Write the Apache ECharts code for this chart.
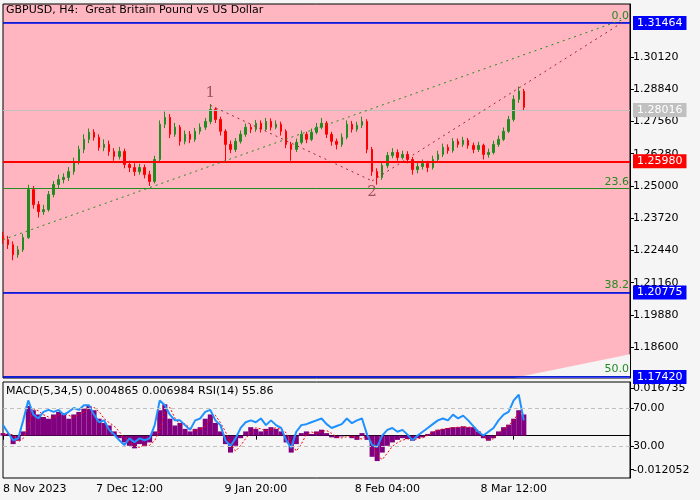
<!DOCTYPE html>
<html>
<head>
<meta charset="utf-8">
<script src="https://cdn.jsdelivr.net/npm/echarts@6/dist/echarts.min.js"></script>
<style>
  html, body { margin: 0; padding: 0; background: #f5f5f5; }
  #chart { width: 700px; height: 500px; }
</style>
</head>
<body>
<div id="chart"></div>
<script>
// H4 candles, one entry per ~4 bars of the picture
const closes = [
    1.2287, 1.2267, 1.2227, 1.2247, 1.2295, 1.2486, 1.2426, 1.2398, 1.2406, 1.2466,
    1.2506, 1.2526, 1.2534, 1.2557, 1.2597, 1.2645, 1.2685, 1.2713, 1.2693, 1.2653,
    1.2665, 1.2637, 1.2617, 1.2637, 1.2585, 1.2573, 1.2557, 1.2573, 1.2545, 1.2518,
    1.2605, 1.2745, 1.2772, 1.2705, 1.2733, 1.2677, 1.2705, 1.2685, 1.2717, 1.2733,
    1.2756, 1.2804, 1.2764, 1.2717, 1.2665, 1.2645, 1.2677, 1.2705, 1.2733, 1.2725,
    1.2749, 1.2725, 1.2756, 1.2733, 1.2745, 1.2717, 1.2665, 1.2645, 1.2673, 1.2705,
    1.2685, 1.2713, 1.2733, 1.2749, 1.2705, 1.2677, 1.2665, 1.2693, 1.2745, 1.2725,
    1.2741, 1.2756, 1.2645, 1.2557, 1.2534, 1.2581, 1.2621, 1.2633, 1.2613, 1.2625,
    1.2605, 1.2565, 1.2577, 1.2589, 1.2573, 1.2605, 1.2625, 1.2653, 1.2641, 1.2677,
    1.2665, 1.2681, 1.2661, 1.2645, 1.2661, 1.2625, 1.2633, 1.2665, 1.2685, 1.2717,
    1.2764, 1.2844, 1.2876, 1.2812
];
const highs = [
    1.2318, 1.2302, 1.2280, 1.2262, 1.2310, 1.2505, 1.2500, 1.2440, 1.2425, 1.2480,
    1.2520, 1.2545, 1.2550, 1.2575, 1.2612, 1.2660, 1.2705, 1.2728, 1.2725, 1.2705,
    1.2685, 1.2680, 1.2650, 1.2655, 1.2648, 1.2600, 1.2590, 1.2588, 1.2585, 1.2560,
    1.2620, 1.2760, 1.2795, 1.2785, 1.2750, 1.2742, 1.2720, 1.2718, 1.2730, 1.2748,
    1.2770, 1.2825, 1.2812, 1.2775, 1.2725, 1.2680, 1.2690, 1.2720, 1.2748, 1.2745,
    1.2762, 1.2760, 1.2770, 1.2768, 1.2760, 1.2755, 1.2725, 1.2675, 1.2688, 1.2720,
    1.2715, 1.2728, 1.2750, 1.2770, 1.2758, 1.2715, 1.2688, 1.2708, 1.2760, 1.2758,
    1.2755, 1.2775, 1.2765, 1.2655, 1.2570, 1.2595, 1.2635, 1.2650, 1.2645, 1.2640,
    1.2638, 1.2615, 1.2592, 1.2605, 1.2600, 1.2620, 1.2640, 1.2668, 1.2665, 1.2690,
    1.2688, 1.2695, 1.2690, 1.2672, 1.2675, 1.2668, 1.2648, 1.2680, 1.2700, 1.2732,
    1.2778, 1.2860, 1.2895, 1.2885
];
const lows = [
    1.2270, 1.2250, 1.2205, 1.2215, 1.2238, 1.2290, 1.2410, 1.2375, 1.2385, 1.2398,
    1.2455, 1.2490, 1.2510, 1.2520, 1.2545, 1.2585, 1.2630, 1.2670, 1.2680, 1.2640,
    1.2638, 1.2620, 1.2600, 1.2605, 1.2570, 1.2555, 1.2540, 1.2545, 1.2530, 1.2500,
    1.2510, 1.2598, 1.2730, 1.2690, 1.2695, 1.2660, 1.2665, 1.2670, 1.2675, 1.2705,
    1.2722, 1.2745, 1.2750, 1.2700, 1.2600, 1.2630, 1.2635, 1.2668, 1.2695, 1.2710,
    1.2715, 1.2712, 1.2718, 1.2720, 1.2725, 1.2700, 1.2650, 1.2600, 1.2635, 1.2665,
    1.2670, 1.2678, 1.2705, 1.2725, 1.2690, 1.2660, 1.2645, 1.2655, 1.2685, 1.2712,
    1.2715, 1.2730, 1.2630, 1.2540, 1.2505, 1.2525, 1.2570, 1.2610, 1.2600, 1.2605,
    1.2590, 1.2545, 1.2550, 1.2565, 1.2555, 1.2565, 1.2595, 1.2615, 1.2628, 1.2632,
    1.2652, 1.2655, 1.2648, 1.2630, 1.2635, 1.2605, 1.2612, 1.2625, 1.2655, 1.2678,
    1.2710, 1.2755, 1.2830, 1.2800
];
const firstOpen = 1.2300;

const macdHist = [
    0.0009, 0.0006, -0.0030, -0.0018, 0.0015, 0.0105, 0.0090, 0.0075, 0.0066, 0.0060,
    0.0075, 0.0084, 0.0075, 0.0060, 0.0075, 0.0084, 0.0096, 0.0105, 0.0090, 0.0060,
    0.0045, 0.0036, 0.0015, -0.0009, -0.0024, -0.0036, -0.0045, -0.0030, -0.0036, -0.0024,
    0.0015, 0.0090, 0.0111, 0.0060, 0.0036, 0.0045, 0.0024, 0.0015, 0.0024, 0.0030,
    0.0060, 0.0075, 0.0045, 0.0015, -0.0030, -0.0060, -0.0036, -0.0009, 0.0015, 0.0030,
    0.0024, 0.0015, 0.0024, 0.0030, 0.0024, 0.0015, -0.0024, -0.0060, -0.0030, 0.0009,
    0.0015, 0.0006, 0.0015, 0.0021, 0.0009, -0.0006, -0.0009, -0.0003, 0.0000, -0.0009,
    -0.0015, 0.0009, -0.0015, -0.0075, -0.0090, -0.0060, -0.0036, -0.0024, -0.0015, -0.0009,
    -0.0012, -0.0018, -0.0009, -0.0006, 0.0006, 0.0015, 0.0021, 0.0024, 0.0027, 0.0030,
    0.0030, 0.0033, 0.0030, 0.0030, 0.0015, -0.0009, -0.0018, -0.0009, 0.0015, 0.0030,
    0.0039, 0.0060, 0.0090, 0.0075
];
const macdSignal = [
    0.0005, 0.0008, 0.0002, -0.0022, -0.0010, 0.0030, 0.0095, 0.0088, 0.0074, 0.0066,
    0.0062, 0.0074, 0.0080, 0.0072, 0.0064, 0.0075, 0.0084, 0.0096, 0.0100, 0.0085,
    0.0060, 0.0046, 0.0034, 0.0014, -0.0008, -0.0022, -0.0035, -0.0042, -0.0032, -0.0034,
    -0.0018, 0.0020, 0.0085, 0.0100, 0.0062, 0.0040, 0.0042, 0.0026, 0.0017, 0.0023,
    0.0032, 0.0058, 0.0072, 0.0046, 0.0014, -0.0028, -0.0055, -0.0035, -0.0010, 0.0012,
    0.0028, 0.0024, 0.0017, 0.0023, 0.0028, 0.0023, 0.0010, -0.0022, -0.0055, -0.0030,
    0.0005, 0.0013, 0.0008, 0.0015, 0.0018, 0.0008, -0.0005, -0.0008, -0.0004, -0.0001,
    -0.0008, -0.0012, 0.0004, -0.0020, -0.0070, -0.0085, -0.0062, -0.0038, -0.0025, -0.0016,
    -0.0011, -0.0015, -0.0011, -0.0007, 0.0002, 0.0012, 0.0019, 0.0023, 0.0026, 0.0028,
    0.0030, 0.0031, 0.0030, 0.0029, 0.0018, -0.0004, -0.0015, -0.0011, 0.0008, 0.0026,
    0.0036, 0.0055, 0.0082, 0.0085
];
const rsi = [
    52, 44, 36, 38, 57, 78, 63, 59, 66, 68,
    66, 68, 63, 66, 70, 68, 73, 73, 63, 55,
    57, 47, 42, 36, 31, 38, 34, 38, 36, 38,
    52, 78, 73, 63, 57, 57, 52, 47, 57, 59,
    66, 68, 57, 52, 36, 30, 38, 49, 55, 57,
    55, 59, 52, 57, 52, 49, 36, 28, 45, 52,
    53, 55, 57, 59, 53, 49, 51, 53, 59, 54,
    57, 59, 42, 31, 29, 41, 47, 49, 45, 47,
    42, 36, 41, 45, 49, 53, 57, 59, 57, 63,
    59, 62, 57, 51, 45, 41, 45, 49, 57, 63,
    66, 78, 84, 57
];

const slotCount = 125;
const dateLabels = { 0: "8 Nov 2023", 25: "7 Dec 12:00", 50: "9 Jan 20:00", 76: "8 Feb 04:00", 101: "8 Mar 12:00" };
const priceTicks = [1.30120, 1.28840, 1.27560, 1.26280, 1.25000, 1.23720, 1.22440, 1.21160, 1.19880, 1.18600];
const macdTicks = [-0.012052, 0.016735];
const rsiTicks = [30, 70];

const fibLevels = [
    { name: "0.0", value: 1.3150 },
    { name: "23.6", value: 1.2490 },
    { name: "38.2", value: 1.2080 },
    { name: "50.0", value: 1.1746 }
];
const priceLines = [
    { value: 1.31464, color: "#0000ff" },
    { value: 1.28016, color: "#c0c0c0" },
    { value: 1.25980, color: "#ff0000" },
    { value: 1.20775, color: "#0000ff" },
    { value: 1.17420, color: "#0000ff" }
];
const wedge = [[101, 1.1738], [124, 1.1832]];

const categories = Array.from({ length: slotCount }, (_, i) => dateLabels[i] || "");
const candles = closes.map((c, i) => {
    const o = i === 0 ? firstOpen : closes[i - 1];
    return [o, c, lows[i], highs[i]];
});

const chart = echarts.init(document.getElementById("chart"));
const FONT = "DejaVu Sans";
const LAST = slotCount - 1;

const fibMarks = fibLevels.map(f => [
    {
        coord: [0, f.value],
        lineStyle: { color: "#228b22", width: 1, type: "solid" },
        label: { show: true, position: "insideEndTop", formatter: f.name, color: "#228b22", fontSize: 11, fontFamily: FONT, distance: 1 }
    },
    { coord: [LAST, f.value] }
]);
const priceMarks = priceLines.map(p => [
    {
        coord: [0, p.value],
        lineStyle: { color: p.color, width: p.color === "#ff0000" ? 2 : (p.color === "#c0c0c0" ? 1 : 1.5), type: "solid" },
        label: {
            show: true, position: "end", formatter: p.value.toFixed(5), color: "#fff",
            backgroundColor: p.color, padding: [2, 4, 1, 4], fontSize: 11, fontFamily: FONT, distance: 3
        }
    },
    { coord: [LAST, p.value] }
]);
const dotted = (a, b, color) => [
    { coord: a, lineStyle: { color: color, width: 1, type: [2, 4] }, label: { show: false } },
    { coord: b }
];

chart.setOption({
    backgroundColor: "#f5f5f5",
    animation: false,
    textStyle: { fontFamily: FONT },
    graphic: [
        { type: "text", left: 6, top: 5, style: { text: "GBPUSD, H4:  Great Britain Pound vs US Dollar", fontSize: 11, fontFamily: FONT, fill: "#000" } },
        { type: "text", left: 6, top: 386, style: { text: "MACD(5,34,5) 0.004865 0.006984 RSI(14) 55.86", fontSize: 11, fontFamily: FONT, fill: "#000" } }
    ],
    grid: [
        { left: 3, right: 70, top: 4, height: 374, show: true, backgroundColor: "#ffb6c1", borderColor: "#000", borderWidth: 1 },
        { left: 3, right: 70, top: 382, height: 96, show: true, backgroundColor: "#f5f5f5", borderColor: "#000", borderWidth: 1 }
    ],
    xAxis: [
        { type: "category", gridIndex: 0, data: categories, boundaryGap: false, axisLabel: { show: false }, axisTick: { show: false }, axisLine: { show: false } },
        {
            type: "category", gridIndex: 1, data: categories, boundaryGap: false,
            axisLine: { lineStyle: { color: "#000" } },
            axisTick: { interval: (i) => !!dateLabels[i], length: 4, lineStyle: { color: "#000" } },
            axisLabel: { interval: (i) => !!dateLabels[i], color: "#000", fontSize: 11, fontFamily: FONT, margin: 6, alignMinLabel: "left" }
        }
    ],
    yAxis: [
        {
            type: "value", gridIndex: 0, position: "right", min: 1.1738, max: 1.3222, splitLine: { show: false },
            axisLine: { show: true, lineStyle: { color: "#000" } },
            axisTick: { show: true, length: 4, customValues: priceTicks, lineStyle: { color: "#000" } },
            axisLabel: { customValues: priceTicks, formatter: (v) => v.toFixed(5), color: "#000", fontSize: 11, fontFamily: FONT, margin: 3 }
        },
        {
            type: "value", gridIndex: 1, position: "right", min: -0.0150, max: 0.0190, splitLine: { show: false },
            axisLine: { show: true, lineStyle: { color: "#000" } },
            axisTick: { show: true, length: 4, customValues: macdTicks, lineStyle: { color: "#000" } },
            axisLabel: { customValues: macdTicks, formatter: (v) => v.toFixed(6), color: "#000", fontSize: 11, fontFamily: FONT, margin: 3 }
        },
        {
            type: "value", gridIndex: 1, position: "right", min: -3.7, max: 97.4, splitLine: { show: false },
            axisLine: { show: false },
            axisTick: { show: true, length: 4, customValues: rsiTicks, lineStyle: { color: "#000" } },
            axisLabel: { customValues: rsiTicks, formatter: (v) => v.toFixed(2), color: "#000", fontSize: 11, fontFamily: FONT, margin: 3 }
        }
    ],
    series: [
        {
            type: "line", xAxisIndex: 0, yAxisIndex: 0, data: wedge, symbol: "none",
            lineStyle: { width: 0 }, areaStyle: { color: "#f5f5f5", opacity: 1, origin: "start" }, z: 1
        },
        {
            type: "candlestick", xAxisIndex: 0, yAxisIndex: 0, data: candles, barWidth: 2,
            itemStyle: { color: "#228b22", color0: "#ff0000", borderColor: "#228b22", borderColor0: "#ff0000", borderWidth: 1 },
            markLine: {
                symbol: "none", silent: true, animation: false,
                data: [
                    ...fibMarks,
                    ...priceMarks,
                    dotted([0, 1.2287], [124, 1.3170], "#228b22"),
                    dotted([41, 1.2820], [73, 1.2520], "#a0282d"),
                    dotted([73, 1.2520], [123, 1.3155], "#a0282d")
                ]
            },
            markPoint: {
                symbol: "circle", symbolSize: 0, silent: true,
                label: { show: true, color: "#a05060", fontSize: 15, fontFamily: "DejaVu Serif" },
                data: [
                    { coord: [41, 1.2870], value: "1" },
                    { coord: [73, 1.2475], value: "2" }
                ]
            },
            z: 3
        },
        {
            type: "bar", xAxisIndex: 1, yAxisIndex: 1, data: macdHist, barWidth: "100%", barGap: "-100%",
            itemStyle: { color: "#800080" }
        },
        {
            type: "line", xAxisIndex: 1, yAxisIndex: 1, data: macdSignal, symbol: "none",
            lineStyle: { color: "#ff0000", width: 1, type: [2, 2] }
        },
        {
            type: "line", xAxisIndex: 1, yAxisIndex: 2, data: rsi, symbol: "none",
            lineStyle: { color: "#1e90ff", width: 2 },
            markLine: {
                symbol: "none", silent: true,
                label: { show: false },
                lineStyle: { color: "#c0c0c0", type: [4, 3], width: 1 },
                data: rsiTicks.map(v => ({ yAxis: v }))
            }
        }
    ]
});
</script>
</body>
</html>
